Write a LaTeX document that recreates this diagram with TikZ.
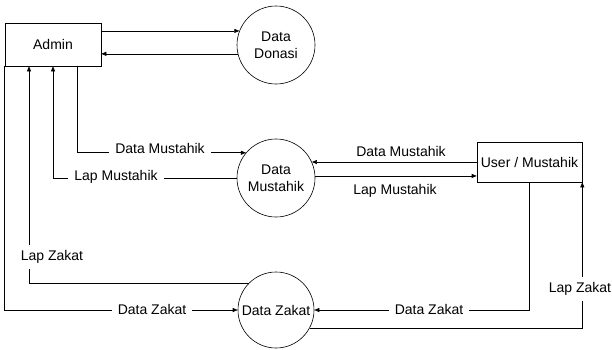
\documentclass[tikz,border=0pt]{standalone}
\usepackage{fontspec}
\setmainfont{Liberation Sans}
\usetikzlibrary{arrows.meta}

\begin{document}
\begin{tikzpicture}[x=1pt, y=-1pt, font=\fontsize{14}{17}\selectfont, line width=0.6pt,
        >={Triangle[length=5pt,width=4pt]},
        ent/.style = {draw, inner sep=0pt},
        proc/.style = {draw, circle, inner sep=0pt, minimum size=78pt, align=center},
        lbl/.style = {fill=white, inner xsep=6pt, inner ysep=5pt}]
            \useasboundingbox (0,0) rectangle (612,349);

            \node[ent, minimum width=96pt, minimum height=43pt] (admin) at (53,44.5) {Admin};
            \node[proc] (donasi) at (276,45) {Data\\Donasi};
            \node[proc] (mustahik) at (276,178) {Data\\Mustahik};
            \node[proc, minimum size=76pt] (zakat) at (276,310) {Data Zakat};
            \node[ent, minimum width=105pt, minimum height=40pt] (user) at (529.5,162) {User / Mustahik};

            \draw[->] (admin.east |- donasi.159) -- (donasi.159);
            \draw[->] (donasi.193) -- (admin.east |- donasi.193);
            \draw[->] ([xshift=24pt]admin.south) |- (mustahik.140);
            \draw[->] (mustahik.west) -| (admin.south);
            \draw[->] (zakat.135) -| ([xshift=-24pt]admin.south);
            \draw[->] (admin.south west) |- (zakat.west);
            \draw[->] (user.west |- mustahik.24) -- (mustahik.24);
            \draw[->] (mustahik.3) -- (user.west |- mustahik.3);
            \draw[->] (user.south) |- (zakat.east);
            \draw[->] (zakat.-28) -| (user.south east);

            \node[lbl] (l1) at (160,148) {Data Mustahik};
            \node[lbl] (l2) at (116,177) {Lap Mustahik};
            \node[lbl] (l3) at (52,257) {Lap Zakat};
            \node[lbl] (l4) at (152,309) {Data Zakat};
            \node (l5) at (401,151) {Data Mustahik};
            \node (l6) at (395,191) {Lap Mustahik};
            \node[lbl] (l7) at (429,309) {Data Zakat};
            \node[lbl] (l8) at (580,289) {Lap Zakat};
        \end{tikzpicture}
\end{document}
